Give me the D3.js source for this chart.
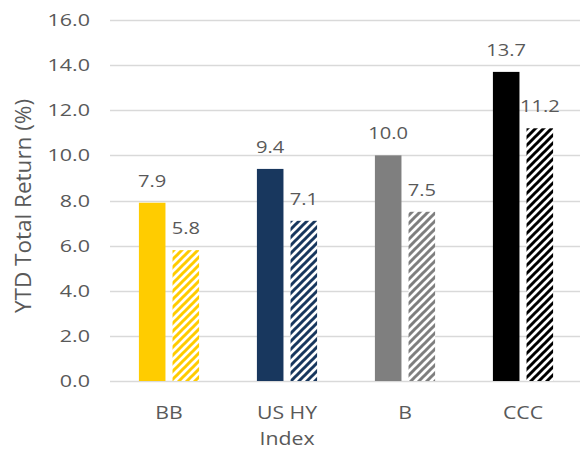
<!DOCTYPE html>
<html>
<head>
<meta charset="utf-8">
<script src="https://cdn.jsdelivr.net/npm/d3@7"></script>
<style>
  body { margin: 0; background: #fff; }
  text { font-family: "Open Sans", sans-serif; fill: #595959; }
</style>
</head>
<body>
<div id="chart"></div>
<script>
// chart data
var categories = ["BB", "US HY Index", "B", "CCC"];
var series = ["solid", "hatched"];
var solidValues = [7.9, 9.4, 10.0, 13.7];
var hatchedValues = [5.8, 7.1, 7.5, 11.2];
var barColors = ["#FFCC00", "#18375E", "#7F7F7F", "#000000"];
var yTicks = [0, 2, 4, 6, 8, 10, 12, 14, 16];

var width = 580,
  height = 452;

var svg = d3
  .select("#chart")
  .append("svg")
  .attr("width", width)
  .attr("height", height);

var y = d3.scaleLinear().domain([0, 16]).range([381, 20]);

var x0 = d3
  .scaleBand()
  .domain(categories)
  .range([110, 582])
  .paddingInner(0.49)
  .paddingOuter(0.245);

var x1 = d3
  .scaleBand()
  .domain(series)
  .range([0, x0.bandwidth()])
  .paddingInner(0.21);

// hatch patterns, one per colour
var defs = svg.append("defs");
barColors.forEach(function (c, i) {
  var p = defs
    .append("pattern")
    .attr("id", "hatch" + i)
    .attr("patternUnits", "userSpaceOnUse")
    .attr("width", 8)
    .attr("height", 8);
  p.append("rect").attr("width", 8).attr("height", 8).attr("fill", "#fff");
  p.append("path")
    .attr("d", "M-2,2 L2,-2 M0,8 L8,0 M6,10 L10,6")
    .attr("stroke", c)
    .attr("stroke-width", 3);
});

// gridlines
svg
  .append("g")
  .selectAll("line")
  .data(yTicks)
  .join("line")
  .attr("x1", 110)
  .attr("x2", width)
  .attr("y1", (d) => Math.round(y(d)) + 0.5)
  .attr("y2", (d) => Math.round(y(d)) + 0.5)
  .attr("stroke", "#D9D9D9")
  .attr("stroke-width", 1.5);

// stretched text helper (reference font is wider than Open Sans)
function label(g, x, yy, txt, size, sx, anchor) {
  g.append("g")
    .attr("transform", "translate(" + x + "," + yy + ") scale(" + sx + ",1)")
    .append("text")
    .attr("text-anchor", anchor)
    .style("font-size", size + "px")
    .text(txt);
}

// y tick labels
var yAxisG = svg.append("g");
yTicks.forEach(function (d) {
  label(yAxisG, 90, y(d) + 6, d3.format(".1f")(d), 16.8, 1.28, "end");
});

// bars
var bars = svg.append("g");
categories.forEach(function (cat, i) {
  var vals = [solidValues[i], hatchedValues[i]];
  series.forEach(function (s, j) {
    var bx = x0(cat) + x1(s);
    bars
      .append("rect")
      .attr("x", bx)
      .attr("y", y(vals[j]))
      .attr("width", x1.bandwidth())
      .attr("height", y(0) - y(vals[j]))
      .attr("fill", j == 0 ? barColors[i] : "url(#hatch" + i + ")");
    label(bars, bx + x1.bandwidth() / 2, y(vals[j]) - 16, d3.format(".1f")(vals[j]), 16.5, 1.22, "middle");
  });
});

// category labels (wrapped)
var xAxisG = svg.append("g");
categories.forEach(function (cat) {
  var cx = x0(cat) + x0.bandwidth() / 2;
  var lines = cat == "US HY Index" ? ["US HY", "Index"] : [cat];
  lines.forEach(function (t, k) {
    label(xAxisG, cx, 419 + k * 26, t, 18.5, 1.15, "middle");
  });
});

// y axis title
svg
  .append("text")
  .attr("transform", "translate(31,206) rotate(-90)")
  .attr("text-anchor", "middle")
  .style("font-size", "22.5px")
  .text("YTD Total Return (%)");
</script>
</body>
</html>
